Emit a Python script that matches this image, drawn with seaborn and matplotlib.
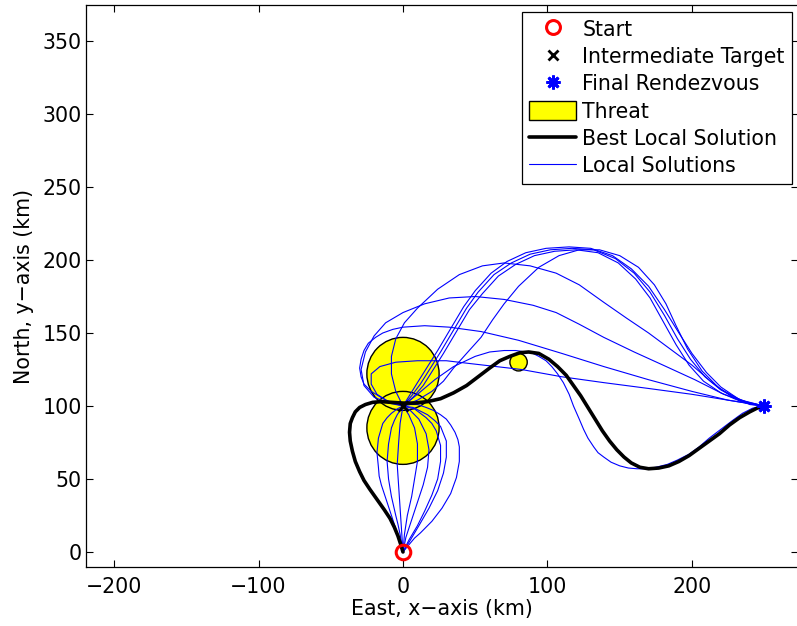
import numpy as np
import pandas as pd
import matplotlib
matplotlib.use("Agg")
import matplotlib.pyplot as plt
from matplotlib.patches import Ellipse, Rectangle
from matplotlib.lines import Line2D
import seaborn as sns

# ---------------- data ----------------
start_pt = (0, 0)
target_pt = (0, 100)
final_pt = (250, 100)

threat_x = [0, 0, 80]
threat_y = [122, 85, 130]
threat_r = [25, 25, 6]

best_path = [(0, 0), (-1.5, 5), (-3.5, 11), (-6, 17), (-9, 23), (-13, 29), (-18, 36), (-23, 43), (-27, 49),
             (-30, 55), (-33, 62), (-35, 69), (-36.5, 76), (-37, 82), (-36.5, 88), (-35, 92), (-33, 96),
             (-30, 99), (-26, 101), (-21, 102.5), (-15, 103), (-8, 102.5), (0, 102), (8, 102), (17, 103),
             (26, 105), (35, 109), (44, 114), (52, 120), (60, 126), (67, 131), (74, 134), (81, 136.5),
             (87, 137), (94, 136), (101, 132), (107, 127), (113, 121), (118, 114), (123, 107), (128, 99),
             (133, 91), (138, 83), (143, 76), (148, 70), (153, 65), (158, 61), (164, 58), (170, 57),
             (177, 57.5), (184, 59), (191, 62), (198, 66), (205, 71), (212, 76), (219, 81), (226, 87),
             (233, 92), (240, 96), (245, 98.5), (250, 100)]

# local solutions, leg 1: start -> intermediate target
leg1_a = [(0, 0), (-1.5, 5), (-3, 10), (-5, 16), (-7, 22), (-9, 28), (-11, 34), (-13, 40), (-15, 46),
          (-16.5, 52), (-17, 58), (-18, 68), (-17, 78), (-14, 88), (-11, 92), (-8, 95), (-4, 98), (0, 100)]
leg1_b = [(0, 0), (-1, 6), (-2, 12), (-3.5, 19), (-5, 25), (-8, 38), (-10, 50), (-11, 62), (-10, 74),
          (-8, 85), (-6, 90), (-4, 94), (0, 100)]
leg1_c = [(0, 0), (-1, 15), (-2, 30), (-3, 45), (-4, 60), (-3, 75), (-2, 88), (0, 100)]
leg1_d = [(0, 0), (1, 12), (3, 25), (6, 38), (8, 50), (10, 62), (10, 74), (8, 85), (4, 94), (0, 100)]
leg1_e = [(0, 0), (1, 5), (2, 10), (4, 16), (6, 22), (10, 34), (14, 46), (17, 58), (18, 70), (16, 81),
          (11, 91), (5, 97), (0, 100)]
leg1_f = [(0, 0), (2, 4), (4, 8), (7, 13), (10, 18), (15, 28), (20, 39), (24, 50), (26, 62), (26, 73),
          (23, 83), (20, 88), (16, 92), (8, 98), (0, 100)]
leg1_g = [(0, 0), (2.5, 4), (5, 8), (8, 13), (11, 18), (18, 30), (24, 42), (28, 54), (30, 65), (30, 76),
          (28, 81), (26, 86), (22, 90), (17, 94), (7, 99), (0, 100)]
leg1_h = [(0, 0), (2.5, 3), (5, 6), (8, 9.5), (12, 13), (20, 21), (27, 30), (33, 40), (37, 51), (39, 62),
          (39, 72), (38, 77), (36, 82), (33, 87), (30, 91), (26, 94), (21, 97), (16, 99), (10, 101), (5, 101),
          (0, 100)]

# local solutions, leg 2: intermediate target -> final rendezvous
leg2_a = [(0, 100), (5, 108), (10, 116), (17, 127), (24, 138), (33, 153), (42, 168), (50, 179), (61, 191),
          (72, 199), (85, 205), (99, 208), (115, 209), (130, 208), (145, 203), (158, 194), (170, 182),
          (181, 166), (191, 150), (200, 136), (210, 123), (220, 113), (232, 105), (240, 102), (250, 100)]
leg2_b = [(0, 100), (6, 107), (12, 115), (19, 126), (26, 137), (35, 152), (44, 167), (52, 178), (63, 190),
          (75, 198), (88, 204), (102, 207), (117, 208), (132, 207), (147, 201), (160, 191), (171, 178),
          (181, 162), (190, 146), (199, 132), (209, 120), (220, 111), (233, 104), (241, 101.5), (250, 100)]
leg2_c = [(0, 100), (7, 106), (14, 114), (21, 125), (28, 136), (37, 151), (46, 166), (55, 177), (66, 189),
          (78, 197), (91, 203), (105, 206), (120, 207), (135, 205), (149, 198), (161, 187), (171, 174),
          (180, 158), (189, 142), (198, 128), (208, 117), (220, 109), (234, 103), (242, 101), (250, 100)]
leg2_d = [(0, 100), (10, 104), (20, 110), (28, 117), (35, 126), (44, 136), (54, 147), (62, 159), (70, 170),
          (80, 182), (94, 195), (108, 203), (122, 207), (136, 207), (150, 203), (163, 195), (174, 183),
          (182, 170), (189, 155), (197, 139), (207, 124), (219, 112), (234, 104), (250, 100)]
leg2_e = [(0, 100), (-5, 110), (-8, 122), (-8, 134), (-5, 146), (1, 157), (10, 167), (24, 180), (39, 190),
          (55, 196), (70, 198), (88, 196), (106, 191), (122, 183), (139, 171), (155, 160), (170, 150),
          (185, 139), (200, 128), (214, 116), (228, 106), (240, 101), (250, 100)]
leg2_f = [(0, 100), (-10, 102), (-20, 106), (-27, 114), (-29, 125), (-26, 137), (-20, 148), (-12, 157),
          (0, 164), (15, 170), (32, 174), (50, 175), (70, 173), (90, 169), (106, 164), (122, 156),
          (139, 147), (160, 137), (180, 128), (202, 118), (222, 108), (237, 103), (250, 100)]
leg2_g = [(0, 100), (-12, 104), (-22, 110), (-27, 115), (-29, 120), (-30, 126), (-29, 132), (-27, 138),
          (-24, 143), (-19, 147), (-14, 150), (-7, 152.5), (0, 154), (15, 155), (32, 154), (54, 151),
          (80, 145), (110, 136), (139, 127), (170, 118), (200, 110), (225, 104), (250, 100)]
leg2_h = [(0, 100), (-10, 103), (-18, 108), (-22, 115), (-22, 122), (-16, 127), (-5, 130), (10, 131),
          (30, 131), (47, 129), (82, 125), (110, 120), (139, 116), (170, 112), (200, 108), (225, 104), (250, 100)]
leg2_i = [(0, 100), (10, 108), (22, 118), (35, 127), (50, 134), (60, 137), (70, 138), (78, 138), (85, 137),
          (90, 136), (94, 134), (99, 131), (103, 127), (107, 122), (111, 116), (115, 108), (118, 100),
          (122, 91), (125, 84), (128, 78), (132, 72), (135, 68), (139, 65), (144, 61.5), (150, 59), (156, 57.5),
          (162, 57), (168, 57), (175, 58), (183, 60), (190, 63), (198, 67), (205, 72), (212, 78), (220, 84),
          (228, 90), (235, 95), (242, 98.5), (250, 100)]

local_paths = [leg1_a, leg1_b, leg1_c, leg1_d, leg1_e, leg1_f, leg1_g, leg1_h,
               leg2_a, leg2_b, leg2_c, leg2_d, leg2_e, leg2_f, leg2_g, leg2_h, leg2_i]

x_ticks = [-200, -100, 0, 100, 200]
y_ticks = [0, 50, 100, 150, 200, 250, 300, 350]
x_label = "East, x\u2212axis (km)"
y_label = "North, y\u2212axis (km)"
legend_labels = ["Start", "Intermediate Target", "Final Rendezvous", "Threat",
                 "Best Local Solution", "Local Solutions"]

# ---------------- build tables ----------------
rows = []
for pid, path in enumerate(local_paths):
    for order, (px, py) in enumerate(path):
        rows.append({"path": pid, "order": order, "x": px, "y": py})
local_df = pd.DataFrame(rows)
best_df = pd.DataFrame({"x": [p[0] for p in best_path], "y": [p[1] for p in best_path],
                        "order": range(len(best_path))})

# ---------------- figure ----------------
sns.set_style("white")
plt.rcParams["font.family"] = ["DejaVu Sans"]
plt.rcParams["axes.unicode_minus"] = True
plt.rcParams["text.color"] = "black"
plt.rcParams["axes.labelcolor"] = "black"
plt.rcParams["xtick.color"] = "black"
plt.rcParams["ytick.color"] = "black"
plt.rcParams["lines.solid_joinstyle"] = "round"

W, H = 797, 626
fig = plt.figure(figsize=(W / 100, H / 100), dpi=100)
ax = fig.add_axes([86 / W, 1 - 567 / H, (798 - 86) / W, (567 - 5) / H])

ax.set_xlim(-219.4, 273.4)
ax.set_ylim(-10.3, 374.7)

# threats (filled first, then edges so both outlines show)
for tx, ty, tr in zip(threat_x, threat_y, threat_r):
    ax.add_patch(Ellipse((tx, ty), 2 * tr, 2 * tr, facecolor="#ffff00", edgecolor="none", zorder=1))
for tx, ty, tr in zip(threat_x, threat_y, threat_r):
    ax.add_patch(Ellipse((tx, ty), 2 * tr, 2 * tr, facecolor="none", edgecolor="black", lw=1.0, zorder=1.5))

sns.lineplot(data=local_df, x="x", y="y", units="path", estimator=None, sort=False,
             color="#0000ff", lw=0.8, ax=ax, zorder=2, legend=False)
sns.lineplot(data=best_df, x="x", y="y", estimator=None, sort=False,
             color="black", lw=2.6, ax=ax, zorder=3, legend=False)

ax.plot([target_pt[0]], [target_pt[1]], marker="x", color="black", ms=7, mew=2, ls="none", zorder=4)
ax.plot([final_pt[0]], [final_pt[1]], marker=(8, 2, 0), color="#0000ff", ms=10, mew=2, ls="none", zorder=4)
ax.plot([start_pt[0]], [start_pt[1]], marker="o", mfc="none", mec="#ff0000", ms=10.5, mew=2.2, ls="none", zorder=5)

# axes styling
ax.set_xticks(x_ticks)
ax.set_yticks(y_ticks)
ax.tick_params(direction="in", length=5, width=0.8, labelsize=14.8, colors="black",
               top=True, right=True, bottom=True, left=True)
ax.tick_params(axis="x", pad=7)
ax.tick_params(axis="y", pad=3)
for s in ax.spines.values():
    s.set_color("black")
    s.set_linewidth(0.9)
ax.set_xlabel(x_label, fontsize=14.8, labelpad=2, color="black")
ax.set_ylabel(y_label, fontsize=14.8, labelpad=6, color="black")

handles = [
    Line2D([], [], marker="o", mfc="none", mec="#ff0000", ms=10, mew=2.2, ls="none"),
    Line2D([], [], marker="x", color="black", ms=7, mew=2, ls="none"),
    Line2D([], [], marker=(8, 2, 0), color="#0000ff", ms=10, mew=2, ls="none"),
    Rectangle((0, 0), 1, 1, facecolor="#ffff00", edgecolor="black", lw=1.0),
    Line2D([], [], color="black", lw=2.6),
    Line2D([], [], color="#0000ff", lw=0.8),
]
leg = ax.legend(handles, legend_labels, loc="upper right", bbox_to_anchor=(792 / W, 1 - 12 / H),
                bbox_transform=fig.transFigure, borderaxespad=0, fontsize=14.8,
                frameon=True, fancybox=False, framealpha=1, edgecolor="black",
                handlelength=2.3, handleheight=1.05, handletextpad=0.3, labelspacing=0.33,
                borderpad=0.35)
leg.get_frame().set_linewidth(0.9)
for t in leg.get_texts():
    t.set_color("black")

fig.savefig("out.png", dpi=100)
